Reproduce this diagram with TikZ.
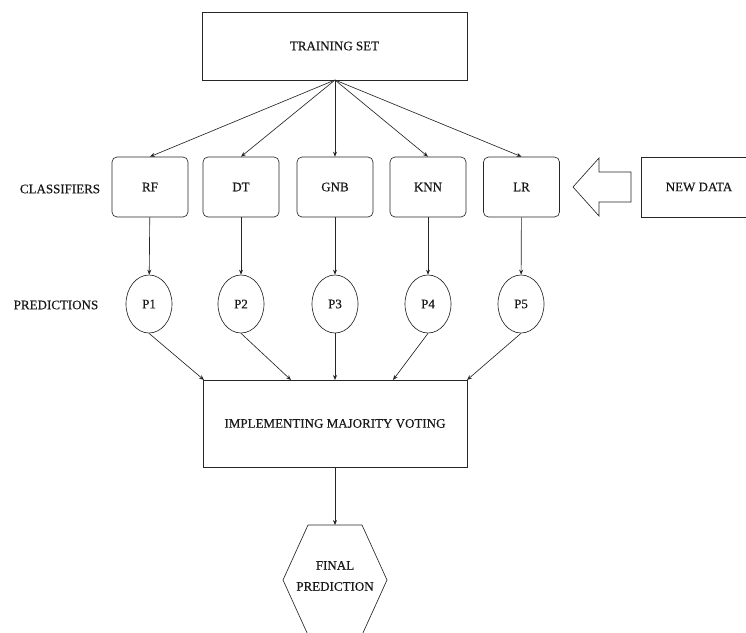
\documentclass[tikz,border=0pt]{standalone}
\usepackage{fontspec}
\setmainfont{Liberation Serif}[FakeBold=0.4]
\usetikzlibrary{arrows.meta,shapes.geometric}
\begin{document}
\begin{tikzpicture}[x=1pt,y=-1pt,
  line/.style={draw=black!85, line width=0.65pt},
  arr/.style={line, -{Stealth[length=5pt,width=4pt]}},
  sqbox/.style={line, rectangle, inner sep=0pt},
  clsbox/.style={line, rectangle, rounded corners=5pt, minimum width=76pt, minimum height=60pt, inner sep=0pt},
  pred/.style={line, ellipse, minimum width=46pt, minimum height=58pt, inner sep=0pt},
  lbl/.style={font=\fontsize{13}{15}\selectfont},
  every node/.style={font=\fontsize{13}{15}\selectfont, text=black!90}
]
\useasboundingbox (0,0) rectangle (746,632);
\clip (0,0) rectangle (746,632);

\node[sqbox, minimum width=265pt, minimum height=68pt] (train) at (334.5,46) {TRAINING SET};

\node[clsbox] (rf)  at (150,187) {RF};
\node[clsbox] (dt)  at (241,187) {DT};
\node[clsbox] (gnb) at (335,187) {GNB};
\node[clsbox] (knn) at (428,187) {KNN};
\node[clsbox] (lr)  at (521.5,187) {LR};

\node[sqbox, minimum width=116pt, minimum height=60pt] (new) at (699,187) {NEW DATA};

\node[lbl] (clslbl) at (60,189) {CLASSIFIERS};
\node[lbl] (predlbl) at (56,305) {PREDICTIONS};

\node[pred] (p1) at (149,304) {P1};
\node[pred] (p2) at (241,304) {P2};
\node[pred] (p3) at (335,304) {P3};
\node[pred] (p4) at (428,304) {P4};
\node[pred] (p5) at (521,304) {P5};

\node[sqbox, minimum width=264pt, minimum height=87pt] (vote) at (335,423.5) {IMPLEMENTING MAJORITY VOTING};

\node[align=center, inner sep=0pt, font=\fontsize{13}{21}\selectfont] (final) at (335,576) {FINAL\\PREDICTION};
\coordinate (hextop) at (335,525);
\draw[line] (308,525) -- (362,525) -- (387,580) -- (362,635) -- (308,635) -- (283,580) -- cycle;

% block arrow
\draw[line, line join=miter] (631,172)
  -- (599,172) -- (599,158) -- (573,187) -- (599,216) -- (599,202) -- (631,202) -- cycle;

% training set to classifiers
\coordinate (tsrc) at (335,80);
\foreach \n in {rf,dt,gnb,knn,lr}{
  \draw[arr] (tsrc) -- (\n.north);
}
% classifiers to predictions
\draw[arr] (rf) -- (p1);
\draw[arr] (dt) -- (p2);
\draw[arr] (gnb) -- (p3);
\draw[arr] (knn) -- (p4);
\draw[arr] (lr) -- (p5);
% predictions to voting
\coordinate (v1) at (204,380);
\coordinate (v2) at (291,380);
\coordinate (v3) at (335,380);
\coordinate (v4) at (393,380);
\coordinate (v5) at (467,380);
\draw[arr] (p1.south) -- (v1);
\draw[arr] (p2.south) -- (v2);
\draw[arr] (p3.south) -- (v3);
\draw[arr] (p4.south) -- (v4);
\draw[arr] (p5.south) -- (v5);
\draw[arr] (vote.south) -- (hextop);
\end{tikzpicture}
\end{document}
